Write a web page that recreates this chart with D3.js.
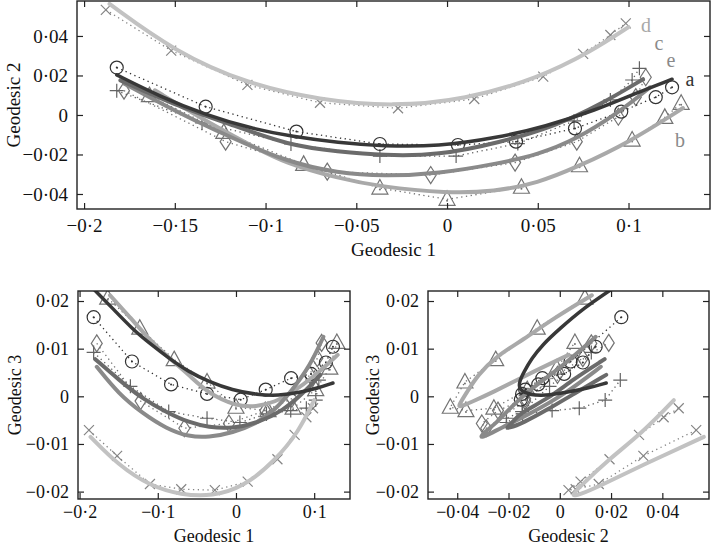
<!DOCTYPE html>
<html>
<head>
<meta charset="utf-8">
<script src="https://cdn.jsdelivr.net/npm/d3@7"></script>
<style>
body { margin: 0; background: #fff; }
svg { display: block; font-family: "Liberation Serif", "Times New Roman", serif; }
</style>
</head>
<body>
<svg id="chart" width="711" height="547"></svg>
<script>
// observed points (geodesic coordinates), one marker per sample
const aG1 = [-0.182, -0.133, -0.083, -0.037, 0.006, 0.038, 0.0705, 0.096, 0.115, 0.124];
const aG2 = [0.0240, 0.0042, -0.0084, -0.0147, -0.0152, -0.0135, -0.0068, 0.0017, 0.0090, 0.0140];
const aG3 = [0.0166, 0.0073, 0.0025, 0.0005, -0.0007, 0.0014, 0.0038, 0.0047, 0.0071, 0.0104];

const bG1 = [-0.164, -0.123, -0.079, -0.037, 0.000, 0.041, 0.073, 0.102, 0.120, 0.129];
const bG2 = [0.0098, -0.0088, -0.0250, -0.0370, -0.0427, -0.0366, -0.0257, -0.0127, -0.0012, 0.0059];
const bG3 = [0.0206, 0.0143, 0.0077, 0.0030, -0.0023, -0.0030, -0.0025, 0.0014, 0.0059, 0.0113];

const cG1 = [-0.182, -0.135, -0.086, -0.037, 0.005, 0.039, 0.070, 0.090, 0.102, 0.106];
const cG2 = [0.0123, -0.0040, -0.0147, -0.0208, -0.0208, -0.0145, -0.0030, 0.0076, 0.0177, 0.0236];
const cG3 = [0.0092, 0.0021, -0.0032, -0.0046, -0.0055, -0.0037, -0.0030, -0.0025, -0.0008, 0.0034];

const dG1 = [-0.188, -0.152, -0.110, -0.070, -0.027, 0.015, 0.053, 0.075, 0.090, 0.0985];
const dG2 = [0.0532, 0.0326, 0.0152, 0.0062, 0.0034, 0.0081, 0.0194, 0.0309, 0.0405, 0.0464];
const dG3 = [-0.0071, -0.0125, -0.0184, -0.0195, -0.0197, -0.0179, -0.0132, -0.0081, -0.0044, -0.0025];

const eG1 = [-0.178, -0.122, -0.066, -0.009, 0.0375, 0.0715, 0.0944, 0.104, 0.1095];
const eG2 = [0.0123, -0.0135, -0.0287, -0.0304, -0.0241, -0.0135, -0.0009, 0.0090, 0.0191];
const eG3 = [0.0111, -0.0010, -0.0067, -0.0057, -0.0030, -0.0005, 0.0045, 0.0080, 0.0112];

// fitted curves at a few positions along geodesic 1
const aFitG1 = [-0.182, -0.158, -0.133, -0.108, -0.085, -0.060, -0.035, -0.005, 0.028, 0.054, 0.082, 0.104, 0.124];
const aFitG2 = [0.0203, 0.0093, 0.0000, -0.0068, -0.0110, -0.0140, -0.0158, -0.0160, -0.0115, -0.0059, 0.0025, 0.0110, 0.0181];
const aFitG3 = [0.0225, 0.0185, 0.0142, 0.0108, 0.0079, 0.0051, 0.0031, 0.0013, 0.0003, 0.0001, 0.0008, 0.0017, 0.0028];

const bFitG1 = [-0.161, -0.135, -0.110, -0.089, -0.060, -0.037, 0.000, 0.026, 0.050, 0.072, 0.100, 0.130];
const bFitG2 = [0.0125, -0.0020, -0.0145, -0.0245, -0.0320, -0.0363, -0.0397, -0.0388, -0.0345, -0.0262, -0.0140, 0.0035];
const bFitG3 = [0.0212, 0.0165, 0.0118, 0.0085, 0.0045, 0.0008, -0.0021, -0.0022, -0.0012, 0.0008, 0.0042, 0.0087];

const cFitG1 = [-0.180, -0.150, -0.120, -0.087, -0.060, -0.035, -0.005, 0.029, 0.060, 0.085, 0.108];
const cFitG2 = [0.0175, 0.0050, -0.0045, -0.0155, -0.0185, -0.0205, -0.0205, -0.0140, -0.0055, 0.0055, 0.0181];
const cFitG3 = [0.0078, 0.0035, -0.0005, -0.0035, -0.0055, -0.0065, -0.0068, -0.0055, -0.0030, 0.0005, 0.0045];

const dFitG1 = [-0.186, -0.150, -0.110, -0.070, -0.030, 0.010, 0.050, 0.080, 0.100];
const dFitG2 = [0.0562, 0.0320, 0.0157, 0.0076, 0.0042, 0.0078, 0.0185, 0.0325, 0.0445];
const dFitG3 = [-0.0085, -0.0145, -0.0188, -0.0207, -0.0210, -0.0190, -0.0135, -0.0075, -0.0008];

const eFitG1 = [-0.178, -0.150, -0.120, -0.089, -0.060, -0.035, -0.005, 0.029, 0.050, 0.0705, 0.095, 0.1118];
const eFitG2 = [0.0160, 0.0020, -0.0110, -0.0235, -0.0295, -0.0310, -0.0298, -0.0245, -0.0200, -0.0127, 0.0015, 0.0140];
const eFitG3 = [0.0062, 0.0005, -0.0035, -0.0068, -0.0085, -0.0086, -0.0077, -0.0055, -0.0028, 0.0010, 0.0065, 0.0125];

// letters next to the curve ends in the top panel (geodesic 1, geodesic 2)
const labelNames = ['d', 'c', 'e', 'a', 'b'];
const labelG1 = [0.1096, 0.1168, 0.1234, 0.1339, 0.1284];
const labelG2 = [0.0456, 0.0365, 0.0278, 0.0182, -0.0127];

// tick values
const g1TicksTop = [-0.2, -0.15, -0.1, -0.05, 0, 0.05, 0.1];
const g2TicksTop = [-0.04, -0.02, 0, 0.02, 0.04];
const g1TicksBottom = [-0.2, -0.1, 0, 0.1];
const g2TicksBottom = [-0.04, -0.02, 0, 0.02, 0.04];
const g3Ticks = [-0.02, -0.01, 0, 0.01, 0.02];

function pts(g1, g2, g3) {
    return g1.map(function(v, i) { return {g1: v, g2: g2[i], g3: g3[i]}; });
}

// drawing order: lighter ones first
let series = [
    {name: 'd', marker: 'cross', curveColor: '#c2c2c2', markColor: '#858585', width: 4,
     pts: pts(dG1, dG2, dG3), fit: pts(dFitG1, dFitG2, dFitG3)},
    {name: 'b', marker: 'triangle', curveColor: '#a9a9a9', markColor: '#737373', width: 4,
     pts: pts(bG1, bG2, bG3), fit: pts(bFitG1, bFitG2, bFitG3)},
    {name: 'e', marker: 'diamond', curveColor: '#8a8a8a', markColor: '#737373', width: 4,
     pts: pts(eG1, eG2, eG3), fit: pts(eFitG1, eFitG2, eFitG3)},
    {name: 'c', marker: 'plus', curveColor: '#6b6b6b', markColor: '#636363', width: 4,
     pts: pts(cG1, cG2, cG3), fit: pts(cFitG1, cFitG2, cFitG3)},
    {name: 'a', marker: 'circle', curveColor: '#383838', markColor: '#333', width: 3.5,
     pts: pts(aG1, aG2, aG3), fit: pts(aFitG1, aFitG2, aFitG3)}
];

let labelColors = {a: '#333', b: '#8a8a8a', c: '#8a8a8a', d: '#a8a8a8', e: '#8a8a8a'};

let svg = d3.select('#chart');

function fmt(v) {
    return String(v).replace('-', '\u2212').replace('.', '\u00b7');
}

function markerPath(type) {
    if (type == 'circle') return 'M-6.5,0a6.5,6.5 0 1,0 13,0a6.5,6.5 0 1,0 -13,0';
    if (type == 'triangle') return 'M0,-8.5L8,6L-8,6Z';
    if (type == 'diamond') return 'M0,-8.5L5.5,0L0,8.5L-5.5,0Z';
    if (type == 'plus') return 'M-7,0H7M0,-7V7';
    return 'M-5,-5L5,5M-5,5L5,-5';
}

function plotPanel(cfg) {
    let x = d3.scaleLinear().domain(cfg.xDomain).range([cfg.left, cfg.right]);
    let y = d3.scaleLinear().domain(cfg.yDomain).range([cfg.bottom, cfg.top]);

    let g = svg.append('g');

    g.append('clipPath').attr('id', cfg.id + '-clip')
        .append('rect')
        .attr('x', cfg.left).attr('y', cfg.top)
        .attr('width', cfg.right - cfg.left).attr('height', cfg.bottom - cfg.top);

    let plot = g.append('g').attr('clip-path', 'url(#' + cfg.id + '-clip)');

    let dotted = d3.line()
        .x(function(d) { return x(d[cfg.kx]); })
        .y(function(d) { return y(d[cfg.ky]); });

    let smooth = d3.line()
        .x(function(d) { return x(d[cfg.kx]); })
        .y(function(d) { return y(d[cfg.ky]); })
        .curve(d3.curveBasis);

    series.forEach(function(s) {
        plot.append('path')
            .attr('d', dotted(s.pts))
            .attr('fill', 'none')
            .attr('stroke', s.markColor)
            .attr('stroke-width', 1.3)
            .attr('stroke-dasharray', '1.3,3.5');

        let m = plot.selectAll(null)
            .data(s.pts)
            .enter().append('g')
            .attr('transform', function(d) { return 'translate(' + x(d[cfg.kx]) + ',' + y(d[cfg.ky]) + ')'; });

        m.append('path')
            .attr('d', markerPath(s.marker))
            .attr('fill', 'none')
            .attr('stroke', s.markColor)
            .attr('stroke-width', 1.2);

        if (s.marker == 'circle' || s.marker == 'triangle') {
            m.append('circle').attr('r', 1).attr('cy', s.marker == 'triangle' ? 1.5 : 0)
                .attr('fill', s.markColor);
        }
    });

    series.forEach(function(s) {
        plot.append('path')
            .attr('d', smooth(s.fit))
            .attr('fill', 'none')
            .attr('stroke', s.curveColor)
            .attr('stroke-width', s.width)
            .attr('stroke-linecap', 'round');
    });

    // axes with inward ticks on all four sides
    function styleAxis(a) {
        a.select('.domain').remove();
        a.selectAll('.tick line').attr('stroke', '#222').attr('stroke-width', 1.2);
        a.selectAll('.tick text').attr('fill', '#111').style('font-size', cfg.fontSize + 'px')
            .style('font-family', '"Liberation Serif", "Times New Roman", serif');
    }

    g.append('g')
        .attr('transform', 'translate(0,' + cfg.bottom + ')')
        .call(d3.axisBottom(x).tickValues(cfg.xTicks).tickSize(-6).tickPadding(cfg.xPad).tickFormat(fmt))
        .call(styleAxis);
    g.append('g')
        .attr('transform', 'translate(0,' + cfg.top + ')')
        .call(d3.axisTop(x).tickValues(cfg.xTicks).tickSize(-6).tickFormat(''))
        .call(styleAxis);
    g.append('g')
        .attr('transform', 'translate(' + cfg.left + ',0)')
        .call(d3.axisLeft(y).tickValues(cfg.yTicks).tickSize(-6).tickPadding(9).tickFormat(fmt))
        .call(styleAxis);
    g.append('g')
        .attr('transform', 'translate(' + cfg.right + ',0)')
        .call(d3.axisRight(y).tickValues(cfg.yTicks).tickSize(-6).tickFormat(''))
        .call(styleAxis);

    g.append('rect')
        .attr('x', cfg.left).attr('y', cfg.top)
        .attr('width', cfg.right - cfg.left).attr('height', cfg.bottom - cfg.top)
        .attr('fill', 'none').attr('stroke', '#222').attr('stroke-width', 1.4);

    g.append('text')
        .attr('x', (cfg.left + cfg.right) / 2)
        .attr('y', cfg.bottom + cfg.xTitleGap)
        .attr('text-anchor', 'middle')
        .attr('fill', '#111')
        .style('font-size', cfg.fontSize + 'px')
        .text(cfg.xTitle);

    g.append('text')
        .attr('transform', 'translate(' + cfg.yTitleX + ',' + ((cfg.top + cfg.bottom) / 2) + ') rotate(-90)')
        .attr('text-anchor', 'middle')
        .attr('fill', '#111')
        .style('font-size', cfg.fontSize + 'px')
        .text(cfg.yTitle);

    return {x: x, y: y, g: g};
}

let topPanel = plotPanel({
    id: 'p1', kx: 'g1', ky: 'g2',
    left: 77, right: 710, top: 1, bottom: 209,
    xDomain: [-0.2039, 0.1449], yDomain: [-0.0476, 0.0577],
    xTicks: g1TicksTop, yTicks: g2TicksTop, fontSize: 19, xPad: 10,
    xTitle: 'Geodesic 1', xTitleGap: 47, yTitle: 'Geodesic 2', yTitleX: 20
});

plotPanel({
    id: 'p2', kx: 'g1', ky: 'g3',
    left: 78, right: 350, top: 291, bottom: 499,
    xDomain: [-0.202, 0.1458], yDomain: [-0.02155, 0.0221],
    xTicks: g1TicksBottom, yTicks: g3Ticks, fontSize: 18, xPad: 6,
    xTitle: 'Geodesic 1', xTitleGap: 43, yTitle: 'Geodesic 3', yTitleX: 21
});

plotPanel({
    id: 'p3', kx: 'g2', ky: 'g3',
    left: 428, right: 709, top: 291, bottom: 499,
    xDomain: [-0.0514, 0.0582], yDomain: [-0.02155, 0.0221],
    xTicks: g2TicksBottom, yTicks: g3Ticks, fontSize: 18, xPad: 6,
    xTitle: 'Geodesic 2', xTitleGap: 43, yTitle: 'Geodesic 3', yTitleX: 379
});

topPanel.g.selectAll('.curve-label')
    .data(labelNames)
    .enter().append('text')
    .attr('class', 'curve-label')
    .attr('x', function(d, i) { return topPanel.x(labelG1[i]); })
    .attr('y', function(d, i) { return topPanel.y(labelG2[i]); })
    .attr('text-anchor', 'middle')
    .attr('dominant-baseline', 'central')
    .attr('fill', function(d) { return labelColors[d]; })
    .style('font-size', '20px')
    .text(function(d) { return d; });
</script>
</body>
</html>
